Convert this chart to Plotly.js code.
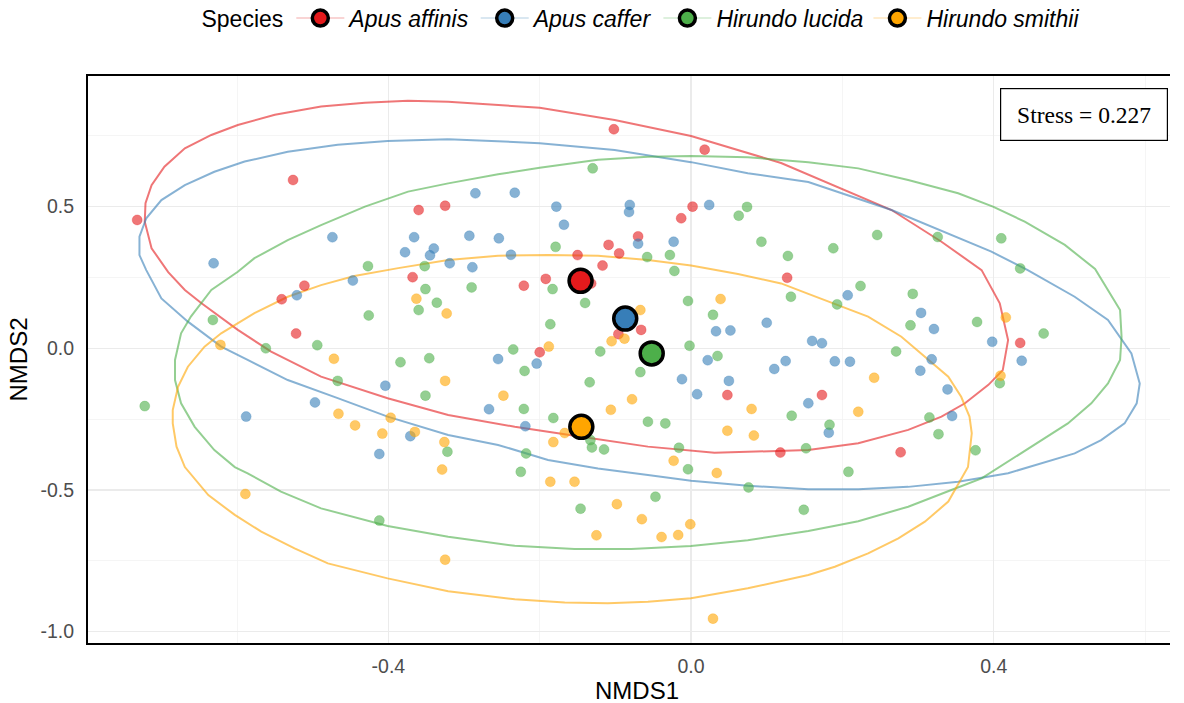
<!DOCTYPE html>
<html>
<head>
<meta charset="utf-8">
<script src="https://cdn.plot.ly/plotly-3.0.1.min.js"></script>
<style>html,body{margin:0;padding:0;background:#fff}#chart{width:1184px;height:703px}</style>
</head>
<body>
<div id="chart"></div>
<script>
// ---- Data ----
const species = ["Apus affinis", "Apus caffer", "Hirundo lucida", "Hirundo smithii"];
const colors = ["#E41A1C", "#377EB8", "#4DAF4A", "#FFA500"];

const affinisX = [-0.526,-0.732,-0.360,-0.325,-0.102,0.018,0.002,-0.013,-0.070,-0.109,-0.095,-0.150,-0.117,-0.368,-0.511,-0.541,-0.522,-0.221,-0.192,-0.132,-0.096,-0.066,-0.200,0.127,0.048,0.118,0.435,0.173,0.277];
const affinisY = [0.594,0.453,0.488,0.503,0.773,0.701,0.500,0.459,0.395,0.365,0.335,0.329,0.292,0.251,0.221,0.173,0.052,0.221,0.245,0.229,0.050,0.065,-0.014,0.249,-0.165,-0.368,0.019,-0.165,-0.367];

const cafferX = [-0.474,-0.366,-0.631,-0.378,-0.340,-0.345,-0.319,-0.285,-0.233,-0.178,-0.081,-0.082,0.024,-0.168,-0.293,-0.254,-0.070,-0.023,-0.238,-0.289,-0.447,-0.521,-0.404,-0.497,-0.588,-0.371,-0.412,-0.255,-0.204,-0.012,0.008,-0.267,-0.219,0.033,0.052,0.100,0.022,0.110,0.125,0.050,0.207,0.304,0.321,0.398,0.437,0.160,0.173,0.190,0.210,0.318,0.303,0.339,0.155,0.345,0.182];
const cafferY = [0.392,0.392,0.300,0.339,0.352,0.328,0.300,0.547,0.549,0.500,0.506,0.481,0.506,0.436,0.397,0.388,0.369,0.376,0.330,0.286,0.239,0.187,-0.132,-0.191,-0.241,-0.310,-0.373,-0.038,-0.054,-0.109,-0.162,-0.215,-0.275,0.060,0.063,0.090,-0.042,-0.073,-0.045,-0.115,0.187,0.125,0.068,0.023,-0.044,0.026,0.018,-0.046,-0.047,-0.039,-0.079,-0.145,-0.194,-0.239,-0.298];

const lucidaX = [-0.427,-0.352,-0.130,0.063,0.074,0.093,-0.179,-0.058,-0.028,0.128,-0.022,0.188,0.246,0.326,0.410,0.435,-0.351,-0.336,-0.360,-0.426,-0.632,-0.562,-0.494,-0.384,-0.346,-0.467,-0.351,-0.722,-0.322,-0.290,-0.183,-0.140,-0.186,-0.235,-0.120,-0.002,-0.220,-0.067,-0.134,-0.221,-0.182,-0.133,-0.131,-0.115,-0.057,-0.034,-0.218,-0.016,-0.004,-0.225,0.133,0.152,0.132,-0.004,0.029,0.035,0.224,0.193,0.293,0.290,0.378,0.466,0.271,0.408,0.315,0.183,0.327,0.376,0.208,-0.412,-0.146,-0.047,0.076,0.149];
const lucidaY = [0.290,0.290,0.635,0.468,0.499,0.376,0.358,0.322,0.329,0.326,0.273,0.353,0.400,0.393,0.388,0.282,0.209,0.161,0.135,0.116,0.100,0.000,0.011,-0.049,-0.035,-0.115,-0.167,-0.204,-0.365,0.215,0.209,0.160,0.085,-0.004,-0.011,0.009,-0.080,-0.084,-0.120,-0.214,-0.246,-0.324,-0.350,-0.357,-0.259,-0.265,-0.371,-0.351,-0.427,-0.436,-0.238,-0.353,0.182,0.167,0.118,-0.027,0.220,0.155,0.192,0.081,0.093,0.052,-0.011,-0.123,-0.244,-0.270,-0.303,-0.360,-0.436,-0.608,-0.566,-0.524,-0.491,-0.570];

const smithiiX = [-0.363,-0.323,-0.622,-0.472,-0.325,-0.466,-0.444,-0.397,-0.408,-0.365,-0.326,-0.329,-0.067,-0.088,-0.105,-0.188,-0.248,-0.078,-0.106,-0.167,-0.182,-0.023,0.080,0.048,0.083,0.039,0.416,0.242,0.409,0.221,-0.589,-0.325,-0.186,-0.154,-0.098,-0.065,-0.125,-0.039,-0.017,-0.001,0.034,0.029];
const smithiiY = [0.175,0.123,0.012,-0.037,-0.115,-0.231,-0.272,-0.245,-0.301,-0.295,-0.331,-0.428,0.135,0.034,0.025,0.006,-0.167,-0.180,-0.217,-0.299,-0.331,-0.397,-0.214,-0.291,-0.308,0.174,0.109,-0.104,-0.097,-0.224,-0.514,-0.746,-0.471,-0.471,-0.550,-0.603,-0.660,-0.666,-0.659,-0.621,-0.440,-0.954];

// centroids (per species)
const centroidX = [-0.146, -0.087, -0.052, -0.145];
const centroidY = [0.238, 0.105, -0.018, -0.277];

// ellipse outlines
const affinisEllX = [-0.374,-0.321,-0.200,-0.101,0.000,0.119,0.265,0.331,0.384,0.408,0.419,0.412,0.393,0.362,0.331,0.287,0.221,0.155,0.031,-0.057,-0.145,-0.233,-0.321,-0.401,-0.489,-0.555,-0.599,-0.647,-0.669,-0.691,-0.713,-0.722,-0.721,-0.713,-0.696,-0.669,-0.634,-0.599,-0.550,-0.489,-0.431];
const affinisEllY = [0.874,0.870,0.849,0.806,0.749,0.654,0.488,0.376,0.276,0.159,0.029,-0.077,-0.129,-0.194,-0.241,-0.288,-0.335,-0.359,-0.369,-0.347,-0.312,-0.277,-0.235,-0.176,-0.100,-0.012,0.065,0.159,0.206,0.269,0.353,0.447,0.512,0.576,0.641,0.706,0.753,0.788,0.824,0.853,0.867];

const cafferEllX = [-0.321,-0.200,-0.101,0.000,0.075,0.155,0.265,0.397,0.445,0.507,0.551,0.582,0.593,0.589,0.573,0.542,0.507,0.463,0.419,0.353,0.287,0.221,0.155,0.075,0.000,-0.057,-0.123,-0.189,-0.255,-0.321,-0.401,-0.467,-0.533,-0.586,-0.621,-0.665,-0.700,-0.720,-0.729,-0.729,-0.720,-0.700,-0.669,-0.630,-0.590,-0.533,-0.467,-0.401];
const cafferEllY = [0.738,0.724,0.700,0.657,0.618,0.587,0.488,0.341,0.276,0.182,0.100,-0.018,-0.124,-0.194,-0.265,-0.324,-0.371,-0.406,-0.441,-0.471,-0.489,-0.497,-0.497,-0.485,-0.467,-0.447,-0.424,-0.394,-0.341,-0.306,-0.241,-0.176,-0.112,-0.041,0.006,0.094,0.176,0.276,0.329,0.394,0.459,0.523,0.576,0.623,0.659,0.694,0.718,0.732];

const lucidaEllX = [-0.321,-0.255,-0.200,-0.123,-0.057,0.000,0.075,0.155,0.221,0.287,0.353,0.399,0.441,0.494,0.534,0.551,0.567,0.569,0.567,0.551,0.529,0.498,0.463,0.428,0.406,0.384,0.344,0.287,0.221,0.155,0.075,0.000,-0.079,-0.154,-0.233,-0.321,-0.401,-0.489,-0.542,-0.586,-0.603,-0.630,-0.656,-0.674,-0.682,-0.682,-0.674,-0.661,-0.634,-0.599,-0.577,-0.533,-0.489,-0.431,-0.374];
const lucidaEllY = [0.582,0.614,0.637,0.665,0.676,0.679,0.674,0.657,0.635,0.594,0.547,0.500,0.447,0.365,0.280,0.206,0.135,0.041,-0.041,-0.124,-0.194,-0.265,-0.324,-0.383,-0.419,-0.459,-0.500,-0.559,-0.610,-0.645,-0.677,-0.698,-0.708,-0.708,-0.697,-0.665,-0.627,-0.565,-0.506,-0.441,-0.419,-0.359,-0.277,-0.194,-0.112,-0.041,0.053,0.112,0.206,0.270,0.318,0.382,0.435,0.500,0.553];

const smithiiEllX = [-0.321,-0.255,-0.189,-0.123,-0.057,0.000,0.062,0.119,0.155,0.234,0.278,0.309,0.340,0.357,0.368,0.371,0.368,0.366,0.340,0.309,0.274,0.234,0.190,0.155,0.075,0.000,-0.057,-0.110,-0.167,-0.233,-0.321,-0.401,-0.480,-0.524,-0.568,-0.603,-0.638,-0.661,-0.669,-0.680,-0.685,-0.685,-0.678,-0.665,-0.643,-0.621,-0.577,-0.533,-0.489,-0.445,-0.387];
const smithiiEllY = [0.312,0.327,0.329,0.327,0.312,0.292,0.262,0.229,0.192,0.112,0.041,-0.030,-0.100,-0.171,-0.241,-0.300,-0.371,-0.419,-0.541,-0.612,-0.671,-0.724,-0.771,-0.800,-0.847,-0.882,-0.894,-0.900,-0.897,-0.886,-0.857,-0.812,-0.759,-0.706,-0.647,-0.588,-0.518,-0.447,-0.419,-0.347,-0.265,-0.218,-0.136,-0.065,0.006,0.053,0.124,0.182,0.223,0.255,0.283];

const xTickVals = [-0.4, 0.0, 0.4];
const xTickText = ["-0.4", "0.0", "0.4"];
const yTickVals = [0.5, 0.0, -0.5, -1.0];
const yTickText = ["0.5", "0.0", "-0.5", "-1.0"];
const xTitle = "NMDS1";
const yTitle = "NMDS2";
const stressText = "Stress = 0.227";

// ---- Build traces ----
function rgba(hex, a) {
  const n = parseInt(hex.slice(1), 16);
  return `rgba(${(n >> 16) & 255},${(n >> 8) & 255},${n & 255},${a})`;
}
const pts = [[affinisX, affinisY], [cafferX, cafferY], [lucidaX, lucidaY], [smithiiX, smithiiY]];
const ells = [[affinisEllX, affinisEllY], [cafferEllX, cafferEllY], [lucidaEllX, lucidaEllY], [smithiiEllX, smithiiEllY]];

const traces = [];
ells.forEach((e, i) => {
  traces.push({
    type: "scatter", mode: "lines",
    x: e[0].concat([e[0][0]]), y: e[1].concat([e[1][0]]),
    line: { color: rgba(colors[i], 0.6), width: 2 },
    hoverinfo: "skip", showlegend: false
  });
});
pts.forEach((p, i) => {
  traces.push({
    type: "scatter", mode: "markers",
    x: p[0], y: p[1], name: species[i],
    marker: { color: rgba(colors[i], 0.6), size: 10, line: { width: 0.8, color: rgba(colors[i], 0.35) } },
    showlegend: false
  });
});
species.forEach((s, i) => {
  traces.push({
    type: "scatter", mode: "lines+markers",
    x: [centroidX[i]], y: [centroidY[i]], name: s,
    line: { color: rgba(colors[i], 0.25), width: 1.5 },
    marker: { color: colors[i], size: 23, line: { color: "#000", width: 3.5 } },
    showlegend: true
  });
});

const font = "Liberation Sans, Arial, sans-serif";
const layout = {
  width: 1184, height: 703,
  margin: { l: 88, r: 14, t: 76, b: 60, autoexpand: false },
  paper_bgcolor: "#fff", plot_bgcolor: "#fff",
  font: { family: font, color: "#000" },
  xaxis: {
    range: [-0.797, 0.633],
    tickvals: xTickVals, ticktext: xTickText,
    tickfont: { size: 19.5, color: "#4D4D4D", family: font },
    ticks: "", ticklabelstandoff: 5,
    showgrid: true, gridcolor: "#EBEBEB", gridwidth: 1.3,
    minor: { dtick: 0.2, tick0: 0, showgrid: true, gridcolor: "#F2F2F2", gridwidth: 0.8 },
    zeroline: false,
    showline: true, linecolor: "#000", linewidth: 2, mirror: true
  },
  yaxis: {
    range: [-1.040, 0.961],
    tickvals: yTickVals, ticktext: yTickText,
    tickfont: { size: 19.5, color: "#4D4D4D", family: font },
    ticks: "", ticklabelstandoff: 8,
    showgrid: true, gridcolor: "#EBEBEB", gridwidth: 1.3,
    minor: { dtick: 0.25, tick0: 0, showgrid: true, gridcolor: "#F2F2F2", gridwidth: 0.8 },
    zeroline: false,
    showline: true, linecolor: "#000", linewidth: 2, mirror: false,
    title: { text: yTitle, font: { size: 24, family: font, color: "#000" }, standoff: 6 }
  },
  legend: {
    orientation: "h", x: 0.512, xanchor: "center", y: 1.102, yanchor: "middle",
    itemwidth: 48,
    font: { size: 23, family: font, style: "italic", color: "#000" },
    title: { text: "Species", side: "left", font: { size: 23, family: font, style: "normal", color: "#000" } },
    itemclick: false, itemdoubleclick: false
  },
  annotations: [
    {
      xref: "paper", yref: "paper",
      x: (1168 - 88) / 1082, y: 1 - (88 - 76) / 567,
      xanchor: "right", yanchor: "top",
      text: stressText, showarrow: false,
      font: { family: "Liberation Serif, Times New Roman, serif", size: 23.5, color: "#000" },
      bgcolor: "#fff", bordercolor: "#000", borderwidth: 1.2, borderpad: 2,
      width: 162, height: 47, align: "center", valign: "middle"
    },
    {
      xref: "paper", yref: "paper",
      x: (637 - 88) / 1082, y: -(690 - 643) / 567,
      xanchor: "center", yanchor: "middle",
      text: xTitle, showarrow: false,
      font: { family: font, size: 24, color: "#000" }
    }
  ]
};

Plotly.newPlot("chart", traces, layout, { displayModeBar: false, staticPlot: true });
</script>
</body>
</html>
